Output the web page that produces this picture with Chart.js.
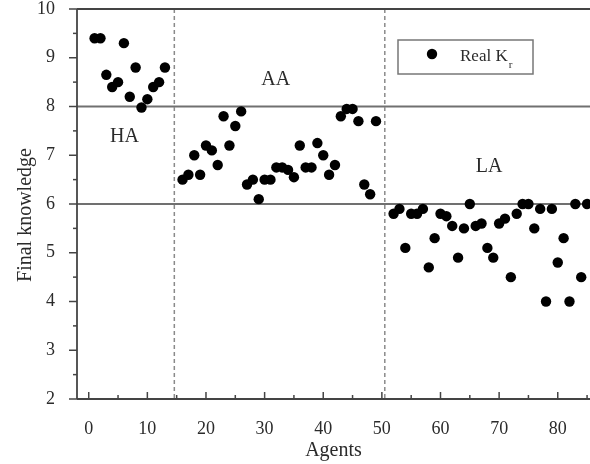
<!DOCTYPE html>
<html lang="en">
<head>
<meta charset="UTF-8">
<title>Final knowledge of agents</title>
<style>
  body { margin: 0; padding: 0; background: #fff; overflow: hidden; }
  canvas { display: block; }
</style>
</head>
<body>
<canvas id="chart" width="590" height="464"></canvas>
<script src="https://cdn.jsdelivr.net/npm/chart.js@4/dist/chart.umd.min.js"></script>
<script>
// agent index and its final knowledge value
const agents = [
  1, 2, 3, 4, 5, 6, 7, 8, 9, 10, 11, 12, 13,
  16, 17, 18, 19, 20, 21, 22, 23, 24, 25, 26, 27, 28, 29, 30, 31, 32,
  33, 34, 35, 36, 37, 38, 39, 40, 41, 42, 43, 44, 45, 46, 47, 48, 49,
  52, 53, 54, 55, 56, 57, 58, 59, 60, 61, 62, 63, 64, 65, 66, 67, 68,
  69, 70, 71, 72, 73, 74, 75, 76, 77, 78, 79, 80, 81, 82, 83, 84, 85
];
const knowledge = [
  9.4, 9.4, 8.65, 8.4, 8.5, 9.3, 8.2, 8.8, 7.98, 8.15, 8.4, 8.5, 8.8,
  6.5, 6.6, 7.0, 6.6, 7.2, 7.1, 6.8, 7.8, 7.2, 7.6, 7.9, 6.4, 6.5, 6.1, 6.5, 6.5, 6.75,
  6.75, 6.7, 6.55, 7.2, 6.75, 6.75, 7.25, 7.0, 6.6, 6.8, 7.8, 7.95, 7.95, 7.7, 6.4, 6.2, 7.7,
  5.8, 5.9, 5.1, 5.8, 5.8, 5.9, 4.7, 5.3, 5.8, 5.75, 5.55, 4.9, 5.5, 6.0, 5.55, 5.6, 5.1,
  4.9, 5.6, 5.7, 4.5, 5.8, 6.0, 6.0, 5.5, 5.9, 4.0, 5.9, 4.8, 5.3, 4.0, 6.0, 4.5, 6.0
];

// group names and where they are written (baseline position)
const groupNames = ['HA', 'AA', 'LA'];
const groupLabelX = [6.1, 31.9, 68.3];
const groupLabelY = [7.27, 8.44, 6.66];
const groupBounds = [14.6, 50.5];   // dashed separators between groups
const thresholds = [8, 6];          // horizontal level lines

const xTicks = [0, 10, 20, 30, 40, 50, 60, 70, 80];
const xMinorTicks = [5, 15, 25, 35, 45, 55, 65, 75, 85];

const serif = "'Liberation Serif', 'Times New Roman', serif";
const textColor = '#2b2b2b';
const axisColor = '#444';

function line(ctx, x1, y1, x2, y2) {
  ctx.beginPath();
  ctx.moveTo(x1, y1);
  ctx.lineTo(x2, y2);
  ctx.stroke();
}

// fixed axis boxes, no extra room for overhanging labels
function fixBox(size) {
  return s => {
    if (s.isHorizontal()) s.height = size; else s.width = size;
    s.paddingTop = s.paddingBottom = s.paddingLeft = s.paddingRight = 0;
  };
}

const decorations = {
  id: 'decorations',
  beforeDatasetsDraw(chart) {
    const { ctx, chartArea: a, scales: { x, y } } = chart;
    ctx.save();
    ctx.strokeStyle = '#707070';
    ctx.lineWidth = 2;
    thresholds.forEach(v => {
      const py = y.getPixelForValue(v);
      line(ctx, a.left, py, a.right, py);
    });
    ctx.strokeStyle = '#8a8a8a';
    ctx.lineWidth = 1.5;
    ctx.setLineDash([4, 3]);
    groupBounds.forEach(v => {
      const px = x.getPixelForValue(v);
      line(ctx, px, a.top, px, a.bottom);
    });
    ctx.restore();
  },
  afterDatasetsDraw(chart) {
    const { ctx, chartArea: a, scales: { x, y } } = chart;
    ctx.save();

    // frame
    ctx.strokeStyle = axisColor;
    ctx.lineWidth = 1.8;
    line(ctx, a.left, a.top, a.right, a.top);
    line(ctx, a.left, a.top, a.left, a.bottom);
    line(ctx, a.left, a.bottom, a.right, a.bottom);

    // y ticks point outwards, x ticks point inwards
    ctx.lineWidth = 1.5;
    for (let v = 2; v <= 10; v += 0.5) {
      const py = y.getPixelForValue(v);
      const len = Number.isInteger(v) ? 8 : 4;
      line(ctx, a.left - len, py, a.left, py);
    }
    xTicks.forEach(v => {
      const px = x.getPixelForValue(v);
      line(ctx, px, a.bottom, px, a.bottom - 7);
    });
    xMinorTicks.forEach(v => {
      const px = x.getPixelForValue(v);
      line(ctx, px, a.bottom, px, a.bottom - 4);
    });

    // group labels
    ctx.fillStyle = textColor;
    ctx.font = '20px ' + serif;
    ctx.textAlign = 'center';
    ctx.textBaseline = 'alphabetic';
    groupNames.forEach((name, i) => {
      ctx.fillText(name, x.getPixelForValue(groupLabelX[i]), y.getPixelForValue(groupLabelY[i]));
    });

    // y axis title
    ctx.save();
    ctx.translate(26, 215);
    ctx.rotate(-Math.PI / 2);
    ctx.textBaseline = 'middle';
    ctx.font = '20px ' + serif;
    ctx.fillText('Final knowledge', 0, 0);
    ctx.restore();

    // legend box
    const lx = a.left + 321, ly = a.top + 31;
    ctx.strokeStyle = '#777';
    ctx.lineWidth = 1.5;
    ctx.strokeRect(lx, ly, 135, 34);
    ctx.fillStyle = '#000';
    ctx.beginPath();
    ctx.arc(lx + 34, ly + 14, 5.2, 0, Math.PI * 2);
    ctx.fill();
    ctx.fillStyle = textColor;
    ctx.textAlign = 'left';
    ctx.font = '17px ' + serif;
    ctx.fillText('Real K', lx + 62, ly + 21);
    const w = ctx.measureText('Real K').width;
    ctx.font = '11px ' + serif;
    ctx.fillText('r', lx + 62 + w + 1, ly + 28);

    ctx.restore();
  }
};

new Chart(document.getElementById('chart'), {
  type: 'scatter',
  data: {
    datasets: [{
      label: 'Real Kr',
      data: agents.map((a, i) => ({ x: a, y: knowledge[i] })),
      pointRadius: 5.2,
      pointHoverRadius: 5.2,
      pointBackgroundColor: '#000',
      pointBorderWidth: 0,
      clip: false
    }]
  },
  options: {
    responsive: false,
    animation: false,
    devicePixelRatio: 1,
    events: [],
    layout: { autoPadding: false, padding: { top: 9, right: 0, left: 0, bottom: 0 } },
    plugins: { legend: { display: false }, tooltip: { enabled: false } },
    scales: {
      x: {
        type: 'linear',
        min: -2,
        max: 85.5,
        afterBuildTicks: s => { s.ticks = xTicks.map(v => ({ value: v })); },
        afterFit: fixBox(65),
        grid: { display: false },
        border: { display: false },
        ticks: { color: textColor, font: { family: serif, size: 18 }, padding: 11 },
        title: {
          display: true,
          text: 'Agents',
          color: textColor,
          font: { family: serif, size: 20 },
          padding: { top: 0, bottom: 1 }
        }
      },
      y: {
        min: 2,
        max: 10,
        afterFit: fixBox(77),
        grid: { display: false },
        border: { display: false },
        ticks: { stepSize: 1, color: textColor, font: { family: serif, size: 18, lineHeight: 1 }, padding: 14 }
      }
    }
  },
  plugins: [decorations]
});
</script>
</body>
</html>
